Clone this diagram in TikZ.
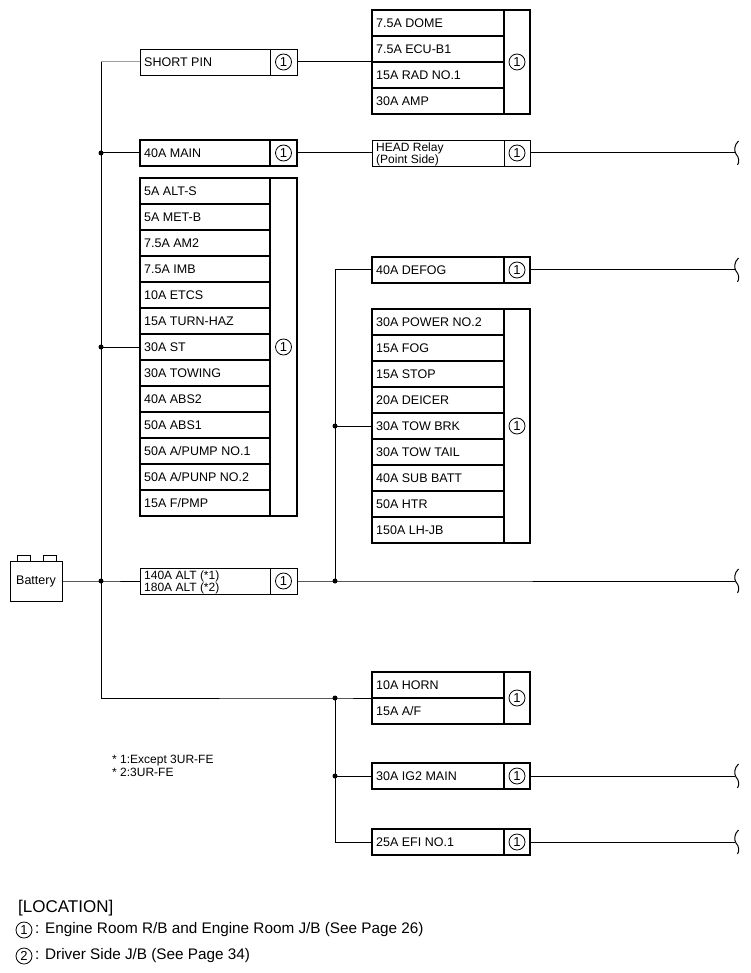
\documentclass[tikz,border=0pt]{standalone}
\usepackage{fontspec}
\setmainfont{Liberation Sans}
\begin{document}
\begin{tikzpicture}[x=1pt,y=-1pt,
  wire/.style={line width=1pt},
  thickcell/.style={draw, line width=1.9pt, inner sep=0pt, outer sep=0pt},
  thincell/.style={draw, line width=0.9pt, inner sep=0pt, outer sep=0pt},
  midcell/.style={draw, line width=1.4pt, inner sep=0pt, outer sep=0pt},
  lab/.style={anchor=west, inner sep=0pt, font=\fontsize{12.5}{13}\selectfont},
  lab2/.style={anchor=west, inner sep=0pt, align=left, font=\fontsize{12}{10.5}\selectfont},
  cnum/.style={circle, draw, line width=0.8pt, inner sep=0pt, minimum size=16pt, font=\fontsize{13}{13}\selectfont},
  lnum/.style={circle, draw, line width=0.8pt, inner sep=0pt, minimum size=16pt, font=\fontsize{13}{13}\selectfont},
  jdot/.style={circle, fill, inner sep=0pt, outer sep=0pt, minimum size=5pt},
  legend/.style={anchor=west, inner sep=0pt, font=\fontsize{15.3}{17}\selectfont},
  foot/.style={anchor=west, inner sep=0pt, align=left, font=\fontsize{12}{12.5}\selectfont}
]
\useasboundingbox (0,0) rectangle (750,973);

% cell macro: [style] name, x, ytop, width, height, label
\newcommand\cellbox[7][thickcell]{%
  \node[#1, minimum width=#5pt, minimum height=#6pt, anchor=north west] (#2) at (#3,#4) {};
  \node[lab] (#2t) at ([xshift=4pt]#2.west) {#7};}
\newcommand\numbox[6][thickcell]{%
  \node[#1, minimum width=#5pt, minimum height=#6pt, anchor=north west] (#2) at (#3,#4) {};
  \node[cnum] (#2c) at (#2.center) {1};}
\newcommand\wend[2]{%
  \coordinate (#1) at (735,#2);
  \draw[wire] (738.5,#2-12) .. controls (734,#2-8) and (734,#2-2) .. (736,#2+1)
     .. controls (739,#2+4) and (739.5,#2+9) .. (737.5,#2+12);}

% ---------- left column ----------
\cellbox[thincell]{sp}{140}{49}{130}{26}{SHORT PIN}
\numbox[thincell]{spn}{270}{49}{27}{26}

\cellbox{mainf}{140}{140}{130}{26}{40A MAIN}
\numbox{mainn}{270}{140}{27}{26}

\foreach \t [count=\i from 0] in {5A ALT-S,5A MET-B,7.5A AM2,7.5A IMB,10A ETCS,15A TURN-HAZ,30A ST,30A TOWING,40A ABS2,50A ABS1,50A A/PUMP NO.1,50A A/PUNP NO.2,15A F/PMP}{
  \cellbox[midcell]{g\i}{140}{178+26*\i}{130}{26}{\t}
}
\numbox[midcell]{gn}{270}{178}{27}{338}

\cellbox[thincell]{alt}{140}{568}{130}{26}{}
\node[lab2] (altt) at ([xshift=4pt,yshift=-1pt]alt.west) {140A ALT (*1)\\180A ALT (*2)};
\numbox[thincell]{altn}{270}{568}{27}{26}

% ---------- right column ----------
\foreach \t [count=\i from 0] in {7.5A DOME,7.5A ECU-B1,15A RAD NO.1,30A AMP}{
  \cellbox{d\i}{372}{10+26*\i}{132}{26}{\t}
}
\numbox{dn}{504}{10}{26}{104}

\cellbox[thincell]{head}{372}{140}{132}{26}{}
\node[lab2] (headt) at ([xshift=4pt,yshift=-1pt]head.west) {HEAD Relay\\(Point Side)};
\numbox[thincell]{headn}{504}{140}{26}{26}

\cellbox{defog}{372}{257}{132}{26}{40A DEFOG}
\numbox{defogn}{504}{257}{26}{26}

\foreach \t [count=\i from 0] in {30A POWER NO.2,15A FOG,15A STOP,20A DEICER,30A TOW BRK,30A TOW TAIL,40A SUB BATT,50A HTR,150A LH-JB}{
  \cellbox[midcell]{r\i}{372}{309+26*\i}{132}{26}{\t}
}
\numbox[midcell]{rn}{504}{309}{26}{234}

\cellbox{horn}{372}{672}{132}{26}{10A HORN}
\cellbox{af}{372}{698}{132}{26}{15A A/F}
\numbox{hornn}{504}{672}{26}{52}

\cellbox{ig}{372}{763}{132}{26}{30A IG2 MAIN}
\numbox{ign}{504}{763}{26}{26}

\cellbox{efi}{372}{829}{132}{26}{25A EFI NO.1}
\numbox{efin}{504}{829}{26}{26}

% ---------- battery ----------
\node[draw, line width=0.9pt, outer sep=0pt, minimum width=52pt, minimum height=40pt, inner sep=0pt,
      anchor=north west, font=\fontsize{12.5}{13}\selectfont] (bat) at (10,561) {Battery};
\draw[line width=0.9pt] (17,561) -- (17,555) -- (30,555) -- (30,561);
\draw[line width=0.9pt] (43,561) -- (43,555) -- (56,555) -- (56,561);

% ---------- junctions ----------
\coordinate (btop) at (101,62);
\coordinate (bbot) at (101,698);
\node[jdot] (j1) at (101,153) {};
\node[jdot] (j2) at (101,347) {};
\node[jdot] (j3) at (101,581) {};
\coordinate (rtop) at (335,270);
\node[jdot] (k1) at (335,426) {};
\node[jdot] (k2) at (335,581) {};
\node[jdot] (m1) at (335,698) {};
\node[jdot] (m2) at (335,776) {};
\coordinate (mbot) at (335,842);

% ---------- wires ----------
\draw[wire, gray!75] (btop) -- (sp.west);
\draw[wire] (btop) -- (bbot) -- (m1.center) -- (horn.south west);
\draw[wire] (j1.center) -- (mainf.west);
\draw[wire] (j2.center) -- (g6.west);
\draw[wire] (bat.east) -- (j3.center) -- (alt.west);
\draw[wire] (spn.east) -- (d1.south west);
\draw[wire] (mainn.east) -- (head.west);

\wend{w1}{153}
\wend{w2}{270}
\wend{w3}{581}
\wend{w4}{776}
\wend{w5}{842}
\draw[wire] (headn.east) -- (w1);
\draw[wire] (altn.east) -- (k2.center) -- (w3);
\draw[wire] (rtop) -- (k2.center);
\draw[wire] (rtop) -- (defog.west);
\draw[wire] (defogn.east) -- (w2);
\draw[wire] (k1.center) -- (r4.west);
\draw[wire] (m1.center) -- (mbot) -- (efi.west);
\draw[wire] (m2.center) -- (ig.west);
\draw[wire] (ign.east) -- (w4);
\draw[wire] (efin.east) -- (w5);

% ---------- footnotes ----------
\node[foot] (fn) at (112,766) {* 1:Except 3UR-FE\\* 2:3UR-FE};

% ---------- legend ----------
\node[anchor=west, inner sep=0pt, font=\fontsize{17}{19}\selectfont] (loc) at (18,908) {[LOCATION]};
\node[lnum] (l1) at (24,930) {1};
\node[legend] (l1t) at (35,930) {: Engine Room R/B and Engine Room J/B (See Page 26)};
\node[lnum] (l2) at (24,956) {2};
\node[legend] (l2t) at (35,956) {: Driver Side J/B (See Page 34)};
\end{tikzpicture}
\end{document}
